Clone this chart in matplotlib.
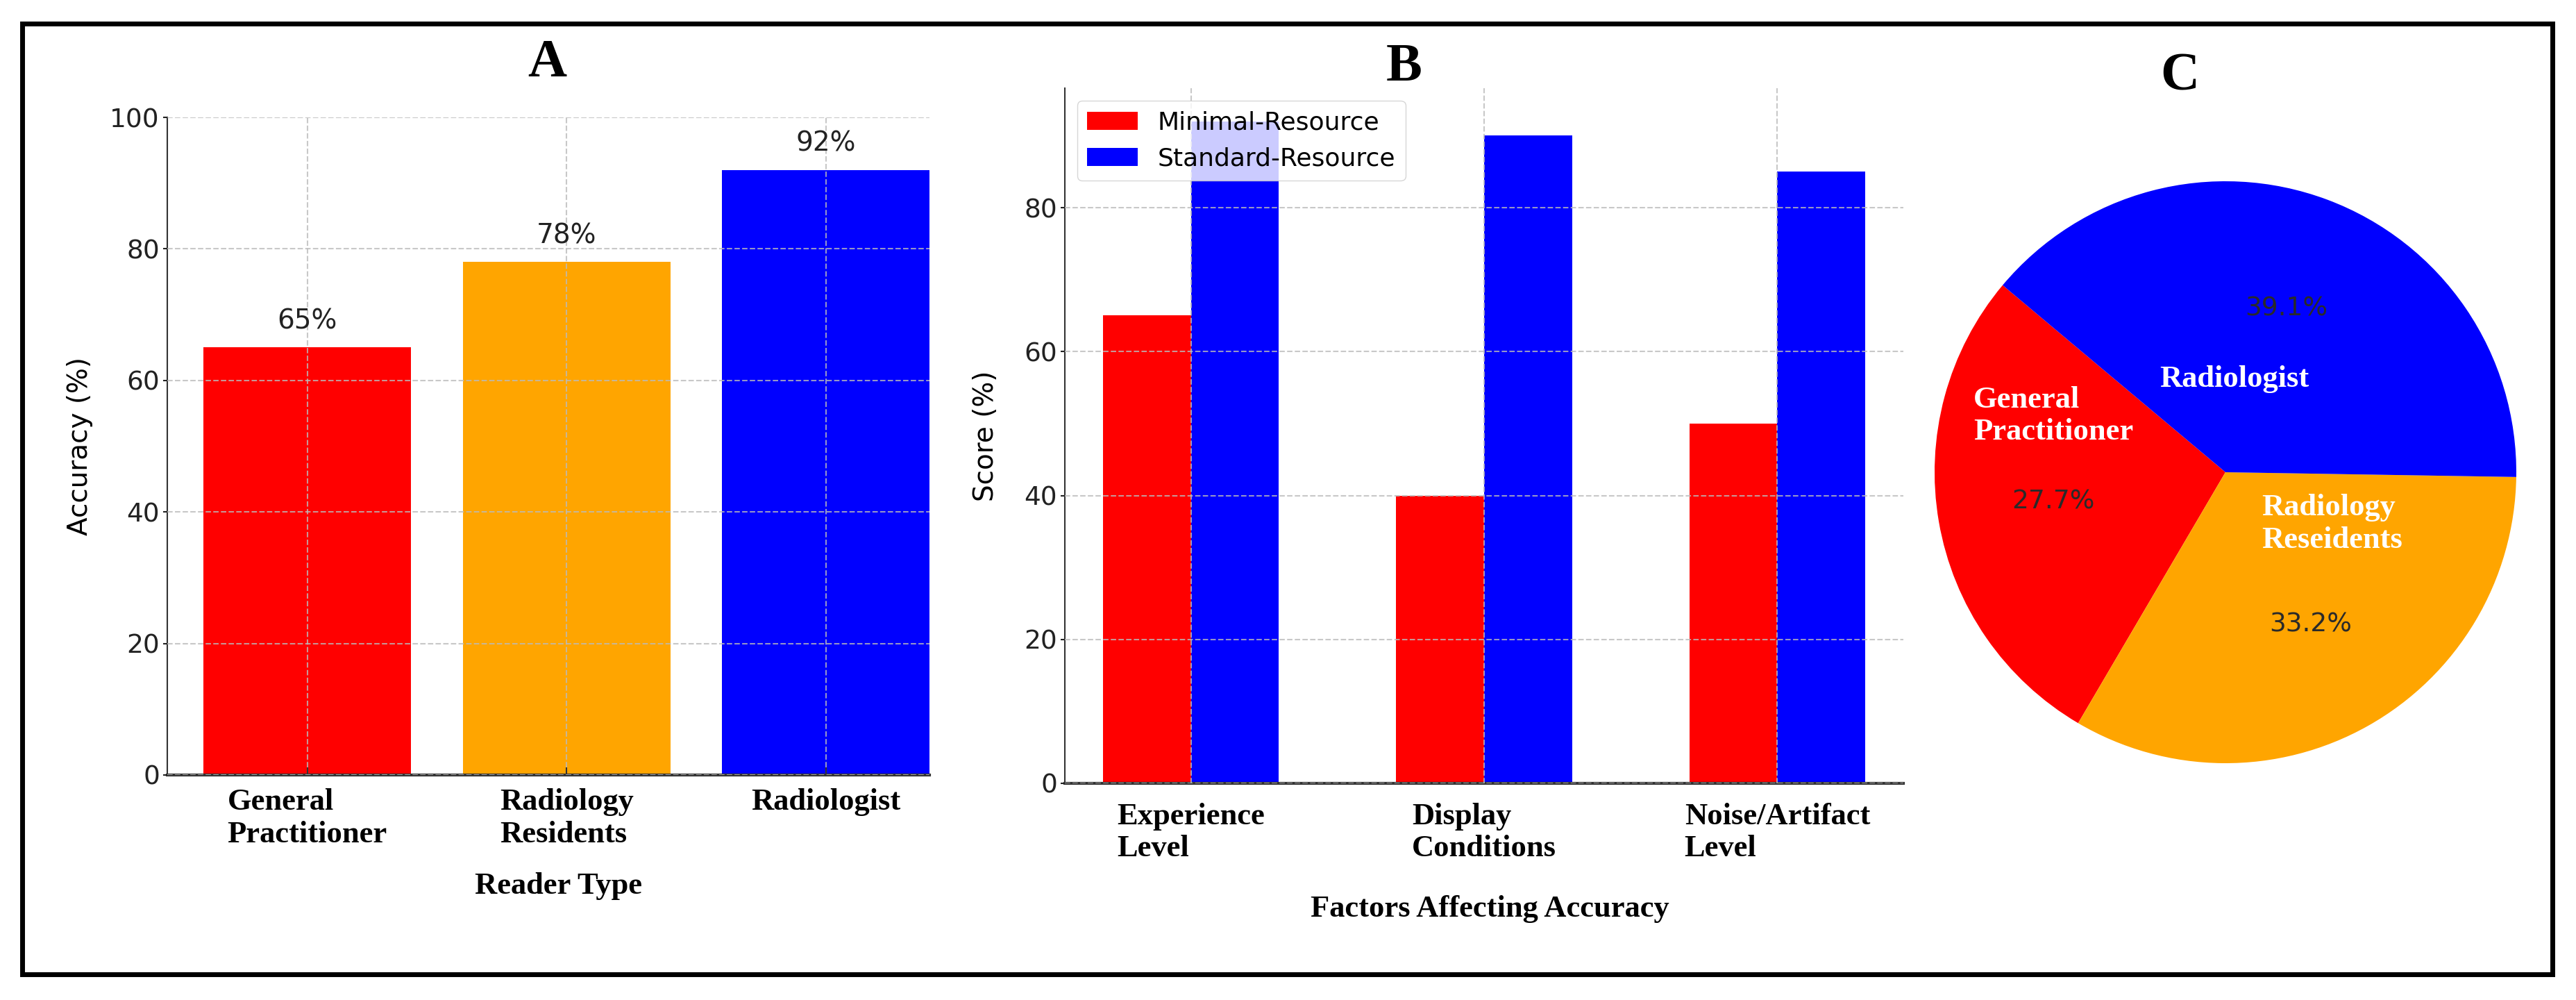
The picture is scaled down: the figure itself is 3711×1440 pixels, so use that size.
import matplotlib
matplotlib.use('Agg')
import matplotlib.pyplot as plt
from matplotlib.patches import Rectangle

#--- data
reader_types = ['General\nPractitioner', 'Radiology\nResidents', 'Radiologist']
accuracy = [65, 78, 92]

factors = ['Experience\nLevel', 'Display\nConditions', 'Noise/Artifact\nLevel']
minimal_score = [65, 40, 50]
standard_score = [92, 90, 85]

pie_labels = ['General\nPractitioner', 'Radiology\nReseidents', 'Radiologist']
pie_values = [65, 78, 92]

colors = ['#ff0000', '#ffa500', '#0000ff']

W, H = 3712, 1440
fig = plt.figure(figsize=(W / 100, H / 100), dpi=100)

serif = ['Liberation Serif', 'DejaVu Serif']
sans = ['DejaVu Sans']
grid_kw = dict(linestyle='--', color='#bbbbbb', linewidth=1.5, alpha=0.8)


def px_axes(left, top, right, bottom):
    # pixel box -> figure fraction
    return fig.add_axes([left / W, 1 - bottom / H, (right - left) / W, (bottom - top) / H])


def style_axes(ax):
    for s in ['top', 'right']:
        ax.spines[s].set_visible(False)
    for s in ['left', 'bottom']:
        ax.spines[s].set_color('#333333')
    ax.spines['left'].set_linewidth(1.5)
    ax.spines['bottom'].set_linewidth(3)
    ax.tick_params(axis='y', labelsize=27, colors='#222222', length=4, width=1.5, pad=4)
    for lab in ax.get_yticklabels():
        lab.set_family(sans)


#--- A : accuracy by reader type
axA = px_axes(241, 169, 1339, 1116)
x = list(range(len(reader_types)))
bars = axA.bar(x, accuracy, color=colors, width=0.8)
axA.set_xlim(-0.54, 2.4)
axA.set_ylim(0, 100)
axA.set_yticks([0, 20, 40, 60, 80, 100])
axA.set_xticks(x)
axA.set_xticklabels(reader_types, fontsize=32, fontweight='bold', family=serif,
                    multialignment='left')
axA.tick_params(axis='x', direction='in', length=8, width=1.5, color='#333333', pad=14)
axA.grid(True, **grid_kw)
axA.set_axisbelow(False)
style_axes(axA)
axA.set_ylabel('Accuracy (%)', fontsize=28, family=sans)
axA.yaxis.set_label_coords(-0.097, 0.5)
axA.set_xlabel('Reader Type', fontsize=32, fontweight='bold', family=serif)
axA.xaxis.set_label_coords(0.513, -0.148)

for bar in bars:
    height = bar.get_height()
    axA.text(bar.get_x() + bar.get_width() / 2, height + 2, f'{height:.0f}%',
             ha='center', va='bottom', fontsize=28, family=sans, color='#222222')

#--- B : factors affecting accuracy
axB = px_axes(1534, 127, 2742, 1128)
xb = list(range(len(factors)))
w = 0.3
axB.bar([i - w / 2 for i in xb], minimal_score, width=w, color=colors[0], label='Minimal-Resource')
axB.bar([i + w / 2 for i in xb], standard_score, width=w, color=colors[2], label='Standard-Resource')
axB.set_xticks(xb)
axB.set_xticklabels(factors, fontsize=32, fontweight='bold', family=serif,
                    multialignment='left')
axB.tick_params(axis='x', length=0, pad=20)
axB.set_yticks([0, 20, 40, 60, 80])
axB.grid(True, **grid_kw)
axB.set_axisbelow(False)
style_axes(axB)
axB.set_ylabel('Score (%)', fontsize=28, family=sans)
axB.yaxis.set_label_coords(-0.079, 0.5)
axB.set_xlabel('Factors Affecting Accuracy', fontsize=32, fontweight='bold', family=serif)
axB.xaxis.set_label_coords(0.507, -0.161)
leg = axB.legend(loc='upper left', fontsize=26, prop={'family': sans, 'size': 26})

#--- C : pie
r = 419
cx, cy = 3206, 680
side = 2.5 * r
axC = px_axes(cx - side / 2, cy - side / 2, cx + side / 2, cy + side / 2)
wedges, texts, autotexts = axC.pie(pie_values, colors=colors, startangle=140,
                                   autopct='%1.1f%%', pctdistance=0.6,
                                   textprops={'fontsize': 27, 'color': '#2a2a2a',
                                              'family': sans})
axC.set_xlim(-1.25, 1.25)
axC.set_ylim(-1.25, 1.25)

lab_kw = dict(color='white', fontsize=32, fontweight='bold', family=serif, va='center')
axC.text(-0.866, 0.193, pie_labels[0], ha='left', **lab_kw)
axC.text(0.124, -0.178, pie_labels[1], ha='left', **lab_kw)
axC.text(0.03, 0.32, pie_labels[2], ha='center', **lab_kw)

#--- panel letters
for letter, px, py in [('A', 788, 92), ('B', 2023, 97), ('C', 3140, 111)]:
    fig.text(px / W, 1 - py / H, letter, ha='center', va='center', fontsize=56,
             fontweight='bold', family=serif)

# outer frame
fig.patches.append(Rectangle((32.5 / W, 1 - 1403 / H), (3677.5 - 32.5) / W, (1403 - 33.5) / H,
                             transform=fig.transFigure, fill=False, edgecolor='black',
                             linewidth=5))

fig.savefig('out.png', dpi=100)
